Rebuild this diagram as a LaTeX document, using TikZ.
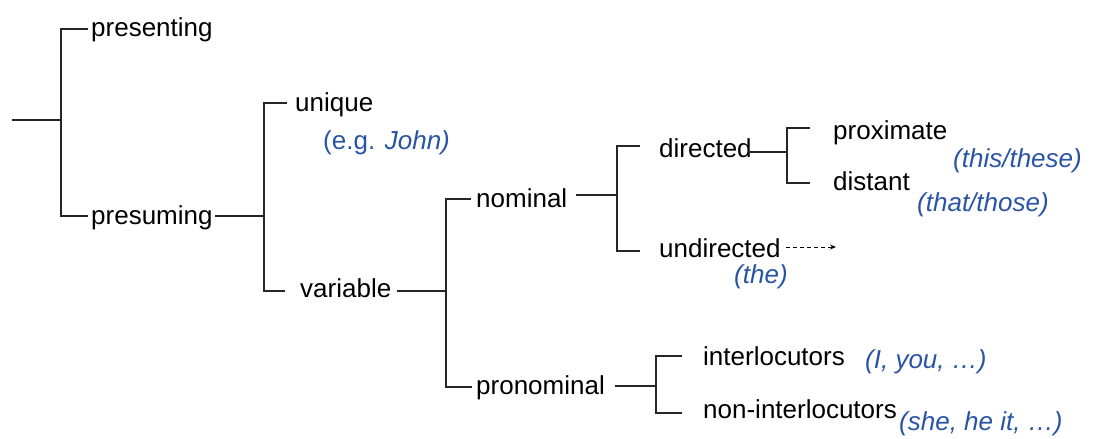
\documentclass[tikz,border=0pt]{standalone}
\usepackage{fontspec}
\setmainfont{Liberation Sans}
\usetikzlibrary{arrows.meta}
\definecolor{exblue}{RGB}{41,84,165}
\tikzset{
  lbl/.style={anchor=base west, inner sep=0pt, font=\fontsize{26}{30}\selectfont},
  ex/.style={lbl, text=exblue, font=\fontsize{26}{30}\selectfont\itshape},
  conn/.style={draw=black!85, line width=1.1pt},
}
\begin{document}
\begin{tikzpicture}[x=1pt,y=-1pt]
\useasboundingbox (0,0) rectangle (1095,439);
% labels
\node[lbl] (presenting) at (91,36) {presenting};
\node[lbl] (presuming) at (91,224) {presuming};
\node[lbl] (unique) at (295,111) {unique};
\node[lbl, text=exblue] (eg) at (323,149) {(e.g. \textit{John)}};
\node[lbl] (variable) at (300,297) {variable};
\node[lbl] (nominal) at (476,207) {nominal};
\node[lbl] (directed) at (659,157) {directed};
\node[lbl] (undirected) at (659,257) {undirected};
\node[ex] (the) at (734,283) {(the)};
\node[lbl] (proximate) at (833,139) {proximate};
\node[ex] (thisthese) at (953,167) {(this/these)};
\node[lbl] (distant) at (833,190) {distant};
\node[ex] (thatthose) at (917,211) {(that/those)};
\node[lbl] (pronominal) at (476,394) {pronominal};
\node[lbl] (interloc) at (703,365) {interlocutors};
\node[ex] (iyou) at (865,368) {(I, you, \dots)};
\node[lbl] (noninterloc) at (703,418) {non-interlocutors};
\node[ex] (shehe) at (899,430) {(she, he it, \dots)};
% coordinates
\coordinate (root) at (12,120);
\coordinate (br1) at (61,120);
\coordinate (presenting-in) at (88,29);
\coordinate (presuming-in) at (88,216);
\coordinate (presuming-out) at (215,216);
\coordinate (br2) at (264,216);
\coordinate (unique-in) at (287,103);
\coordinate (variable-in) at (285,291);
\coordinate (variable-out) at (397,291);
\coordinate (br3) at (446,291);
\coordinate (nominal-in) at (471,199);
\coordinate (pronominal-in) at (472,387);
\coordinate (nominal-out) at (576,195);
\coordinate (br4) at (617,195);
\coordinate (directed-in) at (640,146);
\coordinate (undirected-in) at (640,251);
\coordinate (directed-out) at (748,152);
\coordinate (br5) at (787,152);
\coordinate (proximate-in) at (810,128);
\coordinate (distant-in) at (810,183);
\coordinate (pronominal-out) at (615,386);
\coordinate (br6) at (656,386);
\coordinate (interloc-in) at (682,356);
\coordinate (noninterloc-in) at (682,413);
\coordinate (arrow-start) at (786,247);
\coordinate (arrow-end) at (836,247);
% connectors
\draw[conn] (root) -- (br1);
\draw[conn] (presenting-in) -| (br1) |- (presuming-in);
\draw[conn] (presuming-out) -- (br2);
\draw[conn] (unique-in) -| (br2) |- (variable-in);
\draw[conn] (variable-out) -- (br3);
\draw[conn] (nominal-in) -| (br3) |- (pronominal-in);
\draw[conn] (nominal-out) -- (br4);
\draw[conn] (directed-in) -| (br4) |- (undirected-in);
\draw[conn] (directed-out) -- (br5);
\draw[conn] (proximate-in) -| (br5) |- (distant-in);
\draw[conn] (pronominal-out) -- (br6);
\draw[conn] (interloc-in) -| (br6) |- (noninterloc-in);
\draw[line width=0.9pt, dash pattern=on 4pt off 3pt, -{Stealth[length=6pt,width=5pt]}] (arrow-start) -- (arrow-end);
\end{tikzpicture}
\end{document}
